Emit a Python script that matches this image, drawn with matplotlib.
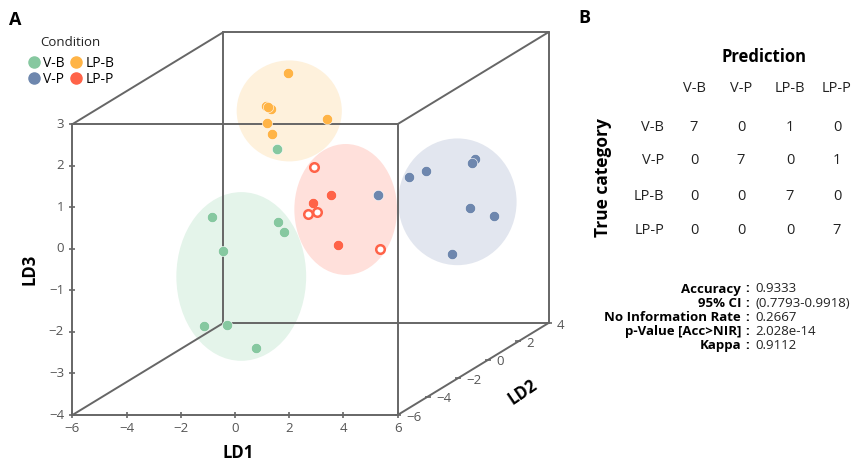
import numpy as np
import matplotlib
matplotlib.use("Agg")
import matplotlib.pyplot as plt
from matplotlib.patches import Ellipse
from matplotlib.lines import Line2D

plt.rcParams['font.family'] = ['Open Sans', 'DejaVu Sans']

# --- data (LD1, LD2, LD3) per condition ---
conditions = ['V-B', 'V-P', 'LP-B', 'LP-P']
colors = {'V-B': '#86C8A0', 'V-P': '#6E87AE', 'LP-B': '#FFB446', 'LP-P': '#FF6348'}
fills = {'V-B': '#E4F4EA', 'V-P': '#E2E6EF', 'LP-B': '#FEF1DC', 'LP-P': '#FFE0DB'}

vb_ld1 = [-0.69, -2.53, 0.48, 0.15, -2.67, -2.27, -1.98, -0.35]
vb_ld2 = [-2, -3, -4, -3, -2, -4, -3, -4]
vb_ld3 = [1.52, 0.10, 0.21, -0.25, -0.94, -2.29, -2.50, -2.82]

vp_ld1 = [1.38, 1.97, 3.14, 3.85, 4.28, 3.66, 5.11, 4.10]
vp_ld2 = [1, 2, 1, 3, 2, 3, 2, 1]
vp_ld3 = [-0.26, -0.04, 0.32, 0.18, 0.29, -1.00, -0.97, -1.68]

lpb_ld1 = [-1.93, -2.20, -1.47, -2.68, -2.15, -1.43, -1.06]
lpb_ld2 = [1, 0, -1, 1, 0, -1, 2]
lpb_ld3 = [2.68, 2.12, 2.26, 1.86, 1.71, 1.66, 1.36]

lpp_ld1 = [0.20, 0.11, 1.56, -1.00, -0.08, -0.31, 3.11]
lpp_ld2 = [0, -1, -2, 1, -1, 0, -2]
lpp_ld3 = [-0.03, -0.01, -0.79, 0.42, -0.27, -0.44, -0.89]
lpp_open = [False, False, False, True, True, True, True]

# group ellipses: centre (LD1, LD2, LD3), width in LD1, height in LD3
ell_center = {'V-B': (-1.44, -3, -1.33), 'V-P': (3.75, 2, -0.64),
              'LP-B': (-1.34, 0, 1.99), 'LP-P': (1.30, -1, -0.16)}
ell_width = {'V-B': 4.79, 'V-P': 4.37, 'LP-B': 3.88, 'LP-P': 3.79}
ell_height = {'V-B': 4.06, 'V-P': 3.05, 'LP-B': 2.43, 'LP-P': 3.15}

# axis ranges
ld1_range = (-6, 6)
ld2_range = (-6, 4)
ld3_range = (-4, 3)
ld1_ticks = [-6, -4, -2, 0, 2, 4, 6]
ld2_ticks = [-6, -4, -2, 0, 2, 4]
ld3_ticks = [-4, -3, -2, -1, 0, 1, 2, 3]

# confusion matrix
pred_labels = ['V-B', 'V-P', 'LP-B', 'LP-P']
conf = [[7, 0, 1, 0],
        [0, 7, 0, 1],
        [0, 0, 7, 0],
        [0, 0, 0, 7]]
stat_names = ['Accuracy', '95% CI', 'No Information Rate', 'p-Value [Acc>NIR]', 'Kappa']
stat_values = ['0.9333', '(0.7793-0.9918)', '0.2667', '2.028e-14', '0.9112']

# oblique projection: LD2 goes back and up-right
KX, KZ = 0.557, 0.2214


def proj(x, y, z):
    y = np.asarray(y, dtype=float)
    return np.asarray(x) + KX * (y - ld2_range[0]), np.asarray(z) + KZ * (y - ld2_range[0])


W, H = 858, 462
fig = plt.figure(figsize=(W / 100, H / 100), dpi=100)
ax = fig.add_axes([0, 0, 570 / W, 1])
ax.set_xlim(-8.672, 12.362)
ax.set_ylim(-5.131, 5.988)
ax.axis('off')

# ellipses
for c in conditions:
    cx, cy = proj(*ell_center[c])
    ax.add_patch(Ellipse((cx, cy), ell_width[c], ell_height[c],
                         facecolor=fills[c], edgecolor='none', zorder=1))

# box
edge_col = '#666666'
x0, x1 = ld1_range
y0, y1 = ld2_range
z0, z1 = ld3_range
corners = [(x, y, z) for x in (x0, x1) for y in (y0, y1) for z in (z0, z1)]
for i, a in enumerate(corners):
    for b in corners[i + 1:]:
        if sum(p != q for p, q in zip(a, b)) == 1:
            px, pz = proj([a[0], b[0]], [a[1], b[1]], [a[2], b[2]])
            ax.plot(px, pz, color=edge_col, lw=1.4, zorder=2, solid_capstyle='round')

tick_col = '#555555'
fs_tick = 9.5
# LD1 ticks along front bottom edge
tx, tz = proj(ld1_ticks, [y0] * len(ld1_ticks), [z0] * len(ld1_ticks))
ax.plot(tx, tz, ls='none', marker='|', ms=5, mew=1.2, color=edge_col, zorder=2)
for t, a, b in zip(ld1_ticks, tx, tz):
    ax.annotate(f'{t}'.replace('-', '\u2212'), (a, b), xytext=(0, -9.5), textcoords='offset points',
                ha='center', va='center', fontsize=fs_tick, color=tick_col)
# LD3 ticks along front left edge
tx, tz = proj([x0] * len(ld3_ticks), [y0] * len(ld3_ticks), ld3_ticks)
ax.plot(tx, tz, ls='none', marker='_', ms=5, mew=1.2, color=edge_col, zorder=2)
for t, a, b in zip(ld3_ticks, tx, tz):
    ax.annotate(f'{t}'.replace('-', '\u2212'), (a, b), xytext=(-6, 0), textcoords='offset points',
                ha='right', va='center', fontsize=fs_tick, color=tick_col)
# LD2 ticks along bottom right edge
tx, tz = proj([x1] * len(ld2_ticks), ld2_ticks, [z0] * len(ld2_ticks))
ax.plot(tx, tz, ls='none', marker='_', ms=5, mew=1.2, color=edge_col, zorder=2)
for t, a, b in zip(ld2_ticks, tx, tz):
    ax.annotate(f'{t}'.replace('-', '\u2212'), (a, b), xytext=(6, -1.5), textcoords='offset points',
                ha='left', va='center', fontsize=fs_tick, color=tick_col)

# axis titles
ax.annotate('LD1', proj(0, y0, z0), xytext=(2, -27), textcoords='offset points',
            ha='center', va='center', fontsize=12, fontweight='bold')
ax.annotate('LD3', proj(x0, y0, -0.5), xytext=(-31, 0), textcoords='offset points',
            ha='center', va='center', fontsize=12, fontweight='bold', rotation=90)
ax.annotate('LD2', proj(x1, -1, z0), xytext=(36, -17), textcoords='offset points',
            ha='center', va='center', fontsize=12, fontweight='bold', rotation=34)

# points
groups = [('V-B', vb_ld1, vb_ld2, vb_ld3), ('V-P', vp_ld1, vp_ld2, vp_ld3),
          ('LP-B', lpb_ld1, lpb_ld2, lpb_ld3)]
for c, a, b, d in groups:
    px, pz = proj(a, b, d)
    ax.scatter(px, pz, s=55, color=colors[c], edgecolors='white', linewidths=0.4, zorder=3)
px, pz = proj(lpp_ld1, lpp_ld2, lpp_ld3)
is_open = np.array(lpp_open)
ax.scatter(px[~is_open], pz[~is_open], s=55, color=colors['LP-P'],
           edgecolors='white', linewidths=0.4, zorder=3)
ax.scatter(px[is_open], pz[is_open], s=38, facecolors='white',
           edgecolors=colors['LP-P'], linewidths=1.8, zorder=3)


def fxy(x, y):
    return x / W, 1 - y / H


# panel labels + legend
fig.text(*fxy(9, 20), 'A', fontsize=13, fontweight='bold', va='center')
fig.text(*fxy(40, 42), 'Condition', fontsize=9.5, va='center', color='#222222')
handles = [Line2D([], [], ls='none', marker='o', ms=8, color=colors[c]) for c in conditions]
fig.legend(handles, conditions, ncol=2, loc='upper left', bbox_to_anchor=fxy(21, 49),
           frameon=False, borderpad=0, handlelength=0.8, handletextpad=0.3,
           columnspacing=0.4, labelspacing=0.1, fontsize=10)

fig.text(*fxy(578, 18), 'B', fontsize=13, fontweight='bold', va='center')
fig.text(*fxy(764, 57), 'Prediction', fontsize=12, fontweight='bold', ha='center', va='center')
fig.text(*fxy(603, 178), 'True category', fontsize=12.5, fontweight='bold', ha='center',
         va='center', rotation=90)

col_x = [694, 741, 790, 837]
row_y = [127, 160, 197, 230]
for lab, x in zip(pred_labels, col_x):
    fig.text(*fxy(x, 88), lab, fontsize=10.5, ha='center', va='center', color='#222222')
for i, (lab, y) in enumerate(zip(pred_labels, row_y)):
    fig.text(*fxy(664, y), lab, fontsize=10.5, ha='right', va='center', color='#222222')
    for j, x in enumerate(col_x):
        fig.text(*fxy(x, y), str(conf[i][j]), fontsize=10.5, ha='center', va='center',
                 color='#222222')

for k, (name, val) in enumerate(zip(stat_names, stat_values)):
    y = 289 + 14.2 * k
    fig.text(*fxy(741, y), name, fontsize=9.5, fontweight='bold', ha='right', va='center')
    fig.text(*fxy(747, y), ':', fontsize=9.5, fontweight='bold', ha='center', va='center')
    fig.text(*fxy(755, y), val, fontsize=9.5, ha='left', va='center', color='#222222')

fig.savefig('out.png', dpi=100)
